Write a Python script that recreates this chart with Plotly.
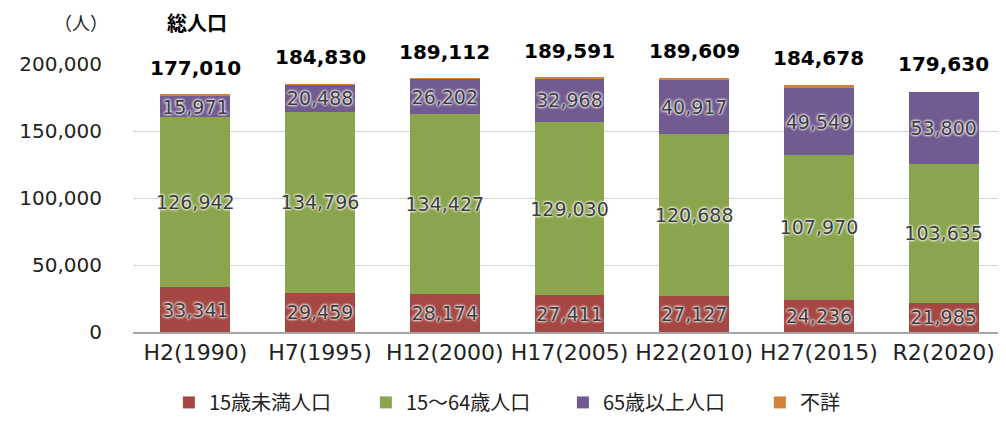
import plotly.graph_objects as go

categories = ["H2(1990)", "H7(1995)", "H12(2000)", "H17(2005)", "H22(2010)", "H27(2015)", "R2(2020)"]
under15 = [33341, 29459, 28174, 27411, 27127, 24236, 21985]
age15_64 = [126942, 134796, 134427, 129030, 120688, 107970, 103635]
over65 = [15971, 20488, 26202, 32968, 40917, 49549, 53800]
unknown = [756, 87, 309, 182, 877, 2923, 0]
totals = [177010, 184830, 189112, 189591, 189609, 184678, 179630]
y_ticks = [0, 50000, 100000, 150000, 200000]

FONT = "DejaVu Sans"
LABEL_FONT = dict(family=FONT, size=19, color="#3c3c3c",
                  shadow="0 0 2px #fff, 0 0 3px #fff, 0 0 3px #fff")

series = [
    ("15歳未満人口", under15, "#A54843", True),
    ("15～64歳人口", age15_64, "#8BA54F", True),
    ("65歳以上人口", over65, "#725B90", True),
    ("不詳", unknown, "#D4803A", False),
]

fig = go.Figure()
for name, vals, color, show_text in series:
    fig.add_trace(go.Bar(
        name=name, x=categories, y=vals,
        marker=dict(color=color, line=dict(width=0)),
        text=[f"{v:,}" for v in vals] if show_text else None,
        textposition="inside" if show_text else "none",
        insidetextanchor="middle",
        constraintext="none",
        textfont=LABEL_FONT,
        textangle=0,
        hoverinfo="skip",
    ))

for c, t in zip(categories, totals):
    fig.add_annotation(x=c, y=t, text=f"<b>{t:,}</b>", showarrow=False,
                       yanchor="bottom", yshift=13, bgcolor="white",
                       font=dict(family=FONT, size=20, color="#000000"))

fig.add_annotation(xref="paper", yref="paper", x=-0.028, y=1.155, text="（人）",
                   showarrow=False, xanchor="right", yanchor="middle", borderpad=0,
                   font=dict(family="Noto Sans CJK JP", size=18, color="#222"))
fig.add_annotation(xref="paper", yref="paper", x=0.038, y=1.155, text="<b>総人口</b>",
                   showarrow=False, xanchor="left", yanchor="middle", borderpad=0,
                   font=dict(family="Noto Sans CJK JP", size=20, color="#000"))

fig.update_layout(
    width=998, height=413,
    margin=dict(l=125, r=0, t=56, b=89),
    barmode="stack", bargap=0.44,
    plot_bgcolor="white", paper_bgcolor="white",
    font=dict(family=FONT, size=20, color="#222"),
    legend=dict(orientation="h", xref="container", x=0.556, xanchor="center",
                yref="container", y=0.045, yanchor="middle",
                font=dict(family="Noto Sans CJK JP", size=20, color="#222"),
                traceorder="normal", entrywidth=152, itemwidth=30),
    showlegend=True,
)
fig.update_xaxes(showgrid=False, showline=True, linecolor="#a6a6a6", linewidth=1.5,
                 ticks="", tickfont=dict(family=FONT, size=22, color="#222"))
fig.update_yaxes(range=[0, 200000], tickvals=y_ticks, tickformat=",",
                 showgrid=True, gridcolor="#d4d4d4", gridwidth=1,
                 zeroline=False, showline=False, ticks="", ticklabelstandoff=30,
                 tickfont=dict(family=FONT, size=20, color="#222"))

fig.write_html("out.html")
